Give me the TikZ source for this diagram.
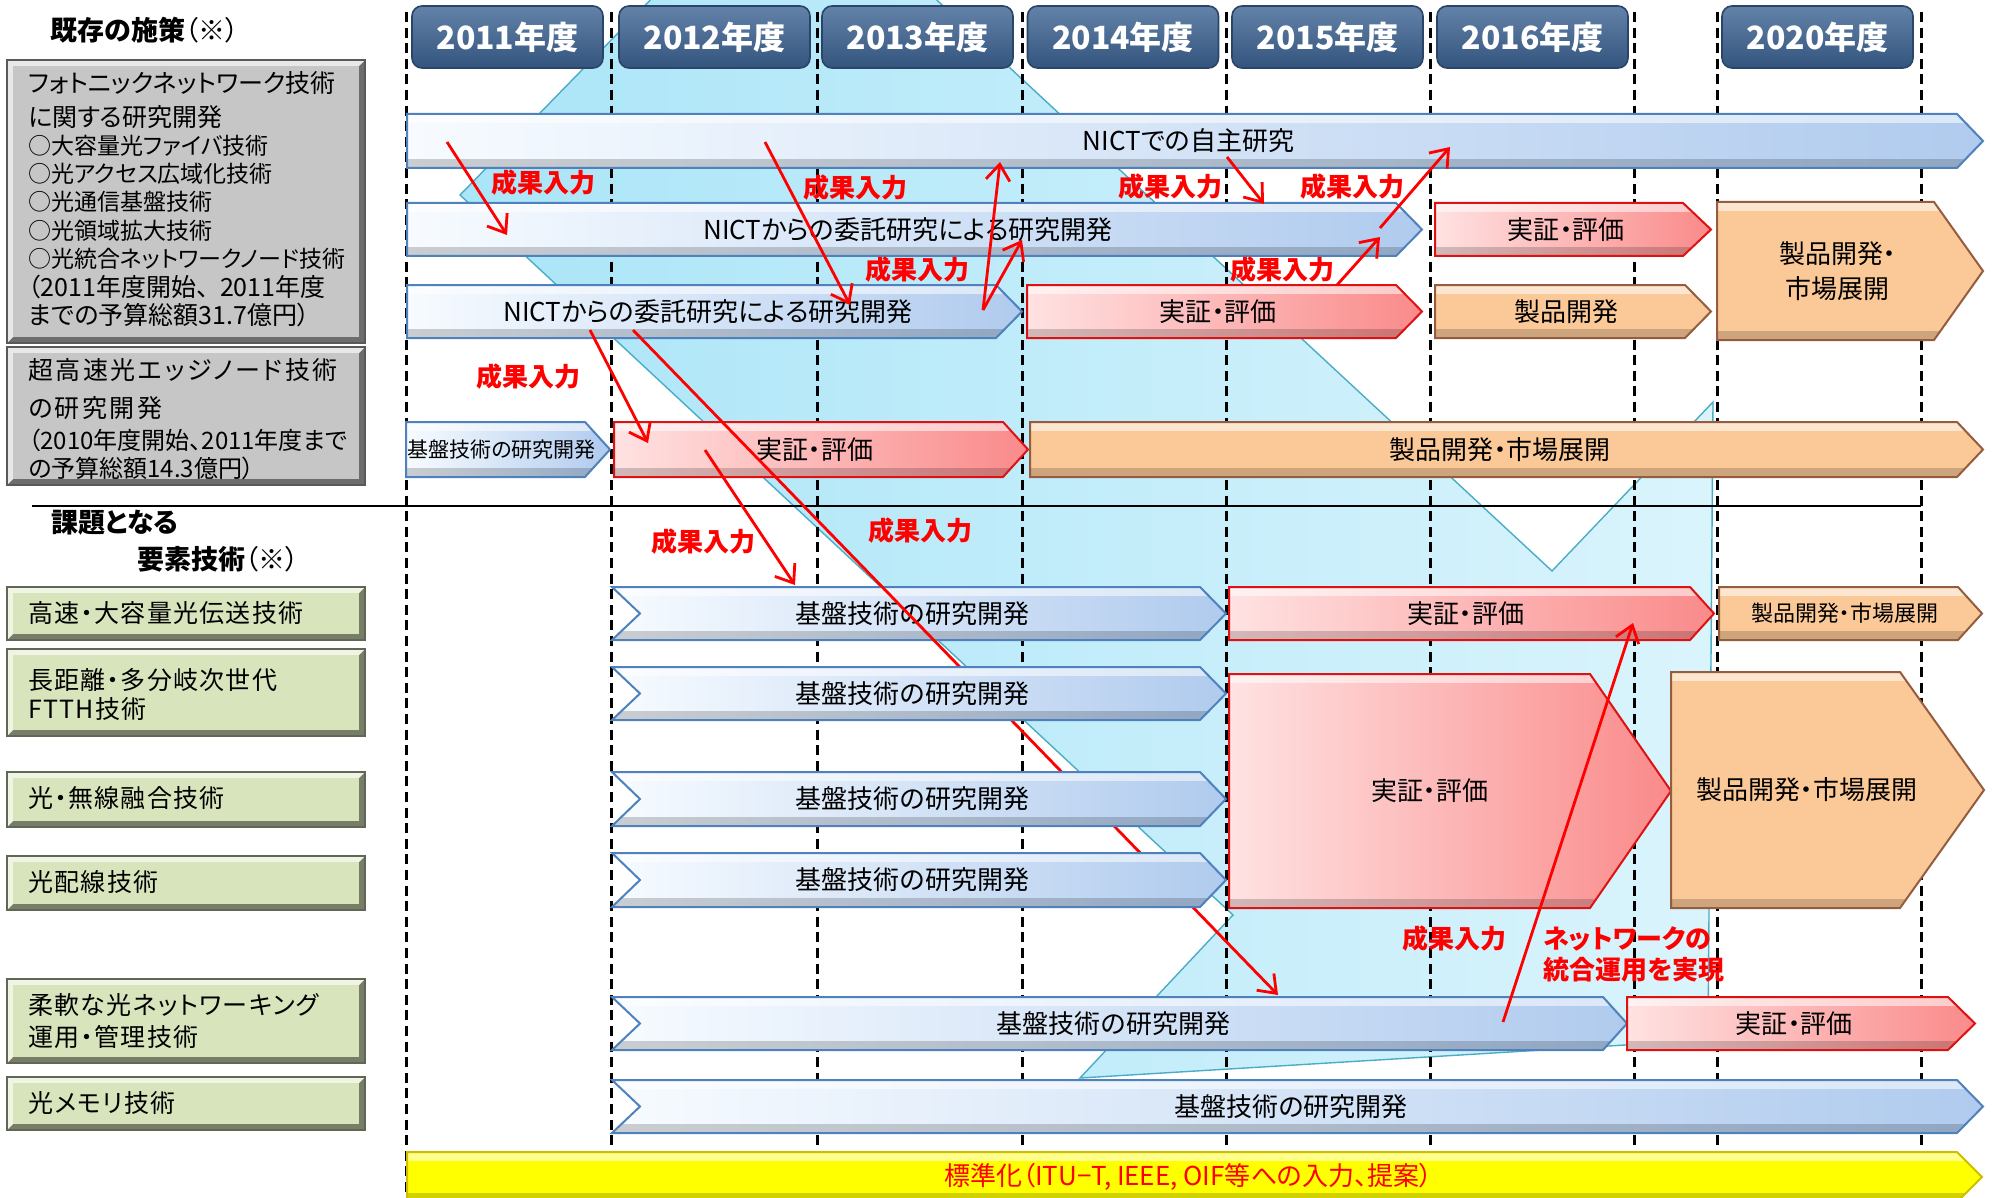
\documentclass[tikz,border=0pt]{standalone}
\usepackage{fontspec}
\setmainfont{Noto Sans CJK JP}[RawFeature={+palt}]
\usetikzlibrary{arrows.meta}

\definecolor{bgcyan}{RGB}{170,229,248}
\definecolor{bgcyanR}{RGB}{218,244,252}
\definecolor{bgedge}{RGB}{75,172,198}
\definecolor{barblueL}{RGB}{247,251,255}
\definecolor{barblueR}{RGB}{176,203,238}
\definecolor{barblueE}{RGB}{79,129,189}
\definecolor{barredL}{RGB}{255,226,226}
\definecolor{barredR}{RGB}{250,138,138}
\definecolor{barredE}{RGB}{222,18,18}
\definecolor{barorng}{RGB}{251,201,152}
\definecolor{barorngE}{RGB}{150,92,62}
\definecolor{baryel}{RGB}{255,255,0}
\definecolor{baryelE}{RGB}{205,190,0}
\definecolor{yearblue}{RGB}{60,99,147}
\definecolor{boxgray}{RGB}{198,198,198}
\definecolor{boxgreen}{RGB}{216,228,188}
\definecolor{inred}{RGB}{255,0,0}

\newcommand{\barfont}{\fontsize{13pt}{16pt}\selectfont}
\newcommand{\midbar}{\fontsize{11pt}{13pt}\selectfont}
\newcommand{\smallbar}{\fontsize{10.5pt}{12pt}\selectfont}
\newcommand{\yearfont}{\fontsize{16pt}{18pt}\selectfont\bfseries}
\newcommand{\labelfont}{\fontsize{13pt}{15pt}\selectfont\bfseries}
\newcommand{\headfont}{\fontsize{13.5pt}{16pt}\selectfont}
\newcommand{\panelbig}{\fontsize{12.5pt}{15pt}\selectfont}
\newcommand{\panelwide}{\fontsize{12.5pt}{15pt}\selectfont\addfontfeature{LetterSpace=10}}
\newcommand{\panelgreen}{\fontsize{12.5pt}{15pt}\selectfont\addfontfeature{LetterSpace=5}}
\newcommand{\panelmid}{\fontsize{12pt}{14pt}\selectfont}
\newcommand{\panelsmall}{\fontsize{11.5pt}{13pt}\selectfont}

\tikzset{
  bgband/.style={left color=bgcyan, right color=bgcyanR, draw=bgedge, line width=0.7pt},
  yearline/.style={line width=1.5pt, dash pattern=on 5pt off 2.8pt},
  divider/.style={line width=0.9pt},
  yearbox/.style={rounded corners=5pt, top color=yearblue!80!white, bottom color=yearblue!85!black,
    draw=yearblue!70!black, line width=0.8pt, text=white, font=\yearfont,
    minimum width=95.5pt, minimum height=31pt, inner sep=0pt},
  blueshade/.style={left color=barblueL, right color=barblueR},
  blueedge/.style={draw=barblueE, line width=1pt},
  redshade/.style={left color=barredL, right color=barredR},
  rededge/.style={draw=barredE, line width=1pt},
  orangeshade/.style={fill=barorng},
  orangeedge/.style={draw=barorngE, line width=1pt},
  yellowshade/.style={fill=baryel},
  yellowedge/.style={draw=baryelE, line width=1pt},
  bartext/.style={inner sep=0pt, font=\barfont, align=center},
  paneltext/.style={inner sep=0pt, anchor=west},
  inlabel/.style={inner sep=0pt, text=inred, font=\labelfont},
  inarrow/.style={draw=inred, line width=1.4pt, -{Straight Barb[length=8pt,width=12pt]}}
}

% bar: colour, name, x left, x tip, y top, y bottom, tip length, notch depth, text
\newcommand{\roadbar}[9]{%
  \pgfmathsetmacro\rbmid{(#5+#6)/2}%
  \pgfmathsetmacro\rbbody{#4-#7}%
  \pgfmathsetmacro\rbnotch{#3+#8}%
  \pgfmathsetmacro\rbtext{(#3+#4-#7/2)/2}%
  \def\rbpath{(#3,#5) -- (\rbbody,#5) -- (#4,\rbmid) -- (\rbbody,#6) -- (#3,#6) -- (\rbnotch,\rbmid) -- cycle}%
  \path[#1shade] \rbpath;
  \begin{scope}
    \clip \rbpath;
    \fill[white,opacity=.55] (#3,#5) rectangle (#4,#5+9);
    \fill[black,opacity=.18] (#3,#6-9) rectangle (#4,#6);
  \end{scope}
  \draw[#1edge] \rbpath;
  \node[bartext] (#2) at (\rbtext,\rbmid) {#9};
}

% bevelled panel: x1, y1, x2, y2, face colour
\newcommand{\bevelpanel}[5]{%
  \fill[#5!55!black] (#1,#2) rectangle (#3,#4);
  \fill[#5!40!white] (#1,#2) -- (#3,#2) -- (#3-6,#2+6) -- (#1+6,#2+6) -- (#1+6,#4-6) -- (#1,#4) -- cycle;
  \fill[#5] (#1+6,#2+6) rectangle (#3-6,#4-6);
  \draw[#5!45!black, line width=0.6pt] (#1,#2) rectangle (#3,#4);
}

\begin{document}
\begin{tikzpicture}[x=0.5pt,y=-0.5pt]
  \useasboundingbox (0,0) rectangle (1996,1198);
  \clip (0,0) rectangle (1996,1198);
  \fill[white] (0,0) rectangle (1996,1198);

  \path[bgband] (660,-10) -- (926,-10) -- (1552,571) -- (1713,402) -- (1708,1040)
    -- (1080,1078) -- (1233,915) -- (460,195) -- cycle;

  \draw[yearline] (406,12) -- (406,1198);
  \draw[yearline] (611,12) -- (611,1198);
  \draw[yearline] (817,12) -- (817,1198);
  \draw[yearline] (1022,12) -- (1022,1198);
  \draw[yearline] (1226,12) -- (1226,1198);
  \draw[yearline] (1430,12) -- (1430,1198);
  \draw[yearline] (1634,12) -- (1634,1198);
  \draw[yearline] (1717,12) -- (1717,1198);
  \draw[yearline] (1921,12) -- (1921,1198);
  \draw[divider] (32,506) -- (1921,506);

  \node[yearbox] (y2011) at (507.5,37) {2011年度};
  \node[yearbox] (y2012) at (714.5,37) {2012年度};
  \node[yearbox] (y2013) at (917.5,37) {2013年度};
  \node[yearbox] (y2014) at (1123,37) {2014年度};
  \node[yearbox] (y2015) at (1327.5,37) {2015年度};
  \node[yearbox] (y2016) at (1532.5,37) {2016年度};
  \node[yearbox] (y2020) at (1817.5,37) {2020年度};

  \node[paneltext, font=\headfont] (existhead) at (50,30) {{\bfseries 既存の施策}（※）};
  \node[paneltext, font=\headfont] (taskhead) at (51,523) {\bfseries 課題となる};
  \node[paneltext, font=\headfont] (elemhead) at (137,559) {{\bfseries 要素技術}（※）};

  \bevelpanel{7}{60}{365}{343}{boxgray}
  \bevelpanel{7}{347}{365}{485}{boxgray}
  \node[paneltext, font=\panelbig] (ex1a) at (28,83) {フォトニックネットワーク技術};
  \node[paneltext, font=\panelbig] (ex1b) at (28,117) {に関する研究開発};
  \node[paneltext, font=\panelsmall] (ex1c) at (28,146) {○大容量光ファイバ技術};
  \node[paneltext, font=\panelsmall] (ex1d) at (28,174) {○光アクセス広域化技術};
  \node[paneltext, font=\panelsmall] (ex1e) at (28,202) {○光通信基盤技術};
  \node[paneltext, font=\panelsmall] (ex1f) at (28,231) {○光領域拡大技術};
  \node[paneltext, font=\panelsmall] (ex1g) at (28,259) {○光統合ネットワークノード技術};
  \node[paneltext, font=\panelbig] (ex1h) at (28,287) {（2011年度開始、\ \ 2011年度};
  \node[paneltext, font=\panelbig] (ex1i) at (28,315) {までの予算総額31.7億円）};
  \node[paneltext, font=\panelwide] (ex2a) at (28,370) {超高速光エッジノード技術};
  \node[paneltext, font=\panelwide] (ex2b) at (28,408) {の研究開発};
  \node[paneltext, font=\panelmid] (ex2c) at (28,440) {（2010年度開始、2011年度まで};
  \node[paneltext, font=\panelmid] (ex2d) at (28,468) {の予算総額14.3億円）};

  \bevelpanel{7}{587}{365}{640}{boxgreen}
  \bevelpanel{7}{649}{365}{736}{boxgreen}
  \bevelpanel{7}{772}{365}{827}{boxgreen}
  \bevelpanel{7}{856}{365}{910}{boxgreen}
  \bevelpanel{7}{979}{365}{1063}{boxgreen}
  \bevelpanel{7}{1077}{365}{1130}{boxgreen}
  \node[paneltext, font=\panelgreen] (el1) at (28,613) {高速・大容量光伝送技術};
  \node[paneltext, font=\panelgreen] (el2a) at (28,680) {長距離・多分岐次世代};
  \node[paneltext, font=\panelgreen] (el2b) at (28,709) {FTTH技術};
  \node[paneltext, font=\panelgreen] (el3) at (28,798) {光・無線融合技術};
  \node[paneltext, font=\panelgreen] (el4) at (28,882) {光配線技術};
  \node[paneltext, font=\panelgreen] (el5a) at (28,1005) {柔軟な光ネットワーキング};
  \node[paneltext, font=\panelgreen] (el5b) at (28,1037) {運用・管理技術};
  \node[paneltext, font=\panelgreen] (el6) at (28,1103) {光メモリ技術};

  \roadbar{blue}{selfres}{407}{1983}{114}{168}{26}{0}{NICTでの自主研究}
  \roadbar{blue}{contractB}{407}{1422}{203}{256}{26}{0}{NICTからの委託研究による研究開発}
  \roadbar{red}{evalB}{1435}{1711}{203}{256}{28}{0}{実証・評価}
  \roadbar{orange}{prodB}{1717}{1983}{202}{340}{49}{0}{製品開発・\\[1.5pt]市場展開}
  \roadbar{blue}{contractC}{407}{1022}{285}{338}{26}{0}{NICTからの委託研究による研究開発}
  \roadbar{red}{evalC}{1027}{1422}{285}{338}{26}{0}{実証・評価}
  \roadbar{orange}{prodC}{1435}{1711}{285}{338}{26}{0}{製品開発}
  \roadbar{blue}{basicD}{406}{610}{422}{477}{25}{0}{\smallbar 基盤技術の研究開発}
  \roadbar{red}{evalD}{614}{1028}{422}{477}{25}{0}{実証・評価}
  \roadbar{orange}{prodD}{1030}{1983}{422}{477}{26}{0}{製品開発・市場展開}

  \roadbar{blue}{basic1}{612}{1226}{587}{640}{26}{28}{基盤技術の研究開発}
  \roadbar{red}{eval1}{1229}{1714}{587}{640}{24}{0}{実証・評価}
  \roadbar{orange}{prod1}{1719}{1982}{587}{640}{24}{0}{\midbar 製品開発・市場展開}
  \roadbar{red}{eval2}{1229}{1671}{674}{908}{81}{0}{実証・評価}
  \roadbar{orange}{prod2}{1671}{1984}{672}{908}{84}{0}{製品開発・市場展開}
  \roadbar{blue}{basic5}{612}{1627}{997}{1050}{24}{28}{基盤技術の研究開発}
  \roadbar{red}{eval5}{1627}{1975}{997}{1050}{27}{0}{実証・評価}
  \roadbar{blue}{basic6}{612}{1983}{1080}{1133}{26}{28}{基盤技術の研究開発}
  \roadbar{yellow}{stdz}{407}{1982}{1152}{1202}{25}{0}{\textcolor{inred}{標準化（ITU−T, IEEE, OIF等への入力、提案）}}

  \coordinate (a1s) at (447,142);  \coordinate (a1e) at (507,235);
  \coordinate (a2s) at (765,142);  \coordinate (a2e) at (850,305);
  \coordinate (a3s) at (983,310);  \coordinate (a3e) at (1000,162);
  \coordinate (a4e) at (1022,240);
  \coordinate (a5s) at (1227,157); \coordinate (a5e) at (1264,204);
  \coordinate (a6s) at (1337,285); \coordinate (a6e) at (1380,237);
  \coordinate (a7s) at (1380,228); \coordinate (a7e) at (1450,147);
  \coordinate (a8s) at (590,330);  \coordinate (a8e) at (648,443);
  \coordinate (a9s) at (633,330);  \coordinate (a9e) at (1278,995);
  \coordinate (a10s) at (705,450); \coordinate (a10e) at (795,585);
  \coordinate (a11s) at (1503,1022); \coordinate (a11e) at (1633,623);

  \draw[inarrow] (a1s) -- (a1e);
  \draw[inarrow] (a2s) -- (a2e);
  \draw[inarrow] (a3s) -- (a3e);
  \draw[inarrow] (a3s) -- (a4e);
  \draw[inarrow] (a5s) -- (a5e);
  \draw[inarrow] (a6s) -- (a6e);
  \draw[inarrow] (a7s) -- (a7e);
  \draw[inarrow] (a8s) -- (a8e);
  \draw[inarrow] (a10s) -- (a10e);
  \draw[inarrow] (a11s) -- (a11e);
  \draw[inarrow] (a9s) -- (a9e);

  \roadbar{blue}{basic2}{612}{1226}{667}{720}{26}{28}{基盤技術の研究開発}
  \roadbar{blue}{basic3}{612}{1226}{772}{826}{26}{28}{基盤技術の研究開発}
  \roadbar{blue}{basic4}{612}{1226}{853}{907}{26}{28}{基盤技術の研究開発}

  \node[inlabel] (res1) at (543,183) {成果入力};
  \node[inlabel] (res2) at (855,188) {成果入力};
  \node[inlabel] (res3) at (917,270) {成果入力};
  \node[inlabel] (res4) at (1170,187) {成果入力};
  \node[inlabel] (res5) at (1352,187) {成果入力};
  \node[inlabel] (res6) at (1282,270) {成果入力};
  \node[inlabel] (res7) at (528,377) {成果入力};
  \node[inlabel] (res8) at (703,542) {成果入力};
  \node[inlabel] (res9) at (920,531) {成果入力};
  \node[inlabel] (res10) at (1454,939) {成果入力};
  \node[inlabel, anchor=west] (netop1) at (1543,939) {ネットワークの};
  \node[inlabel, anchor=west] (netop2) at (1543,970) {統合運用を実現};
\end{tikzpicture}
\end{document}
